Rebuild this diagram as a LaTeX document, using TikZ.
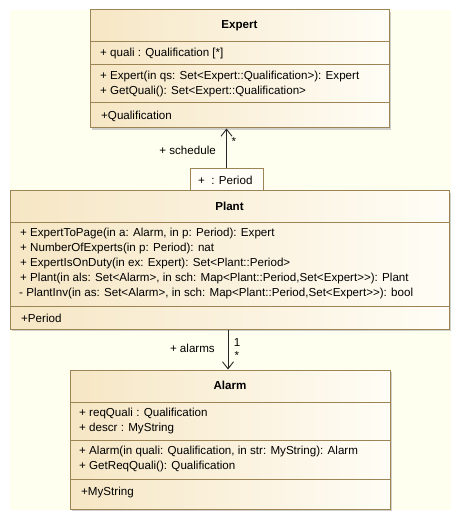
\documentclass[tikz,border=0pt]{standalone}
\usepackage{fontspec}
\setmainfont{Liberation Sans}
\usetikzlibrary{arrows.meta,shadows}
\definecolor{bgc}{HTML}{FFFFEF}
\definecolor{bord}{HTML}{9C8455}
\definecolor{clsL}{HTML}{F6E6C4}
\definecolor{clsR}{HTML}{FFFDF6}
\tikzset{
  classbox/.style={draw=bord, line width=1pt, left color=clsL, right color=clsR, shading angle=90, inner sep=0pt,
    drop shadow={shadow xshift=2pt, shadow yshift=-2pt, fill=black!30, opacity=0.6}},
  qualbox/.style={draw=bord, line width=1pt, fill=clsR, inner sep=0pt},
  divider/.style={draw=bord, line width=1pt},
  txt/.style={anchor=west, inner sep=0pt, font=\fontsize{11.6}{15}\selectfont},
  ttl/.style={inner sep=0pt, font=\fontsize{11.6}{15}\selectfont\bfseries},
  lbl/.style={inner sep=0pt, font=\fontsize{11.6}{15}\selectfont},
  assoc/.style={draw=black!85, line width=0.9pt, -{Straight Barb[length=7pt,width=11pt]}},
}
\begin{document}
\begin{tikzpicture}[x=1pt,y=-1pt]
\useasboundingbox (0,0) rectangle (461,521);
\fill[bgc] (10,10) rectangle (451,510);

% Expert
\node[classbox, minimum width=299pt, minimum height=118pt] (expert) at (239.5,69) {};
\draw[divider] (90,42) -- (389,42);
\draw[divider] (90,65) -- (389,65);
\draw[divider] (90,103) -- (389,103);
\node[ttl] (expertT) at (239.5,26) {Expert};
\node[txt] (e1) at (100,53.5) {+ quali : Qualification [*]};
\node[txt] (e2) at (100,77) {+ Expert(in qs: Set<Expert::Qualification>): Expert};
\node[txt] (e3) at (100,92) {+ GetQuali(): Set<Expert::Qualification>};
\node[txt] (e4) at (101,116.5) {+Qualification};

% Plant
\node[classbox, minimum width=439pt, minimum height=138pt] (plant) at (229.5,260) {};
\draw[divider] (10,222) -- (449,222);
\draw[divider] (10,306) -- (449,306);
\node[ttl] (plantT) at (229.5,206) {Plant};
\node[txt] (p1) at (20,233.5) {+ ExpertToPage(in a: Alarm, in p: Period): Expert};
\node[txt] (p2) at (20,248.5) {+ NumberOfExperts(in p: Period): nat};
\node[txt] (p3) at (20,263.5) {+ ExpertIsOnDuty(in ex: Expert): Set<Plant::Period>};
\node[txt] (p4) at (20,278.5) {+ Plant(in als: Set<Alarm>, in sch: Map<Plant::Period,Set<Expert>{}>): Plant};
\node[txt] (p5) at (19,293.5) {- PlantInv(in as: Set<Alarm>, in sch: Map<Plant::Period,Set<Expert>{}>): bool};
\node[txt] (p6) at (21,318) {+Period};

% qualifier
\node[qualbox, minimum width=73pt, minimum height=22pt] (qual) at (226.5,180) {};
\node[txt] (qt) at (198,180.5) {+\ \ : Period};

% Alarm
\node[classbox, minimum width=320pt, minimum height=139pt] (alarm) at (230,439.5) {};
\draw[divider] (70,402) -- (390,402);
\draw[divider] (70,440) -- (390,440);
\draw[divider] (70,479) -- (390,479);
\node[ttl] (alarmT) at (230,385.5) {Alarm};
\node[txt] (a1) at (79,413.5) {+ reqQuali : Qualification};
\node[txt] (a2) at (79,428.5) {+ descr : MyString};
\node[txt] (a3) at (79,451.5) {+ Alarm(in quali: Qualification, in str: MyString): Alarm};
\node[txt] (a4) at (79,466.5) {+ GetReqQuali(): Qualification};
\node[txt] (a5) at (81,492.5) {+MyString};

% connectors
\draw[assoc] (qual.north) -- (qual.north |- expert.south);
\node[lbl, anchor=east] (schedL) at (216,150) {+ schedule};
\node[lbl] (schedM) at (234,142) {*};

\coordinate (ax) at (228,0);
\draw[assoc] (plant.south -| ax) -- (alarm.north -| ax);
\node[lbl, anchor=east] (alarmsL) at (215,348.5) {+ alarms};
\node[lbl] (alarmsM1) at (237,343) {1};
\node[lbl] (alarmsM2) at (237,356) {*};
\end{tikzpicture}
\end{document}
